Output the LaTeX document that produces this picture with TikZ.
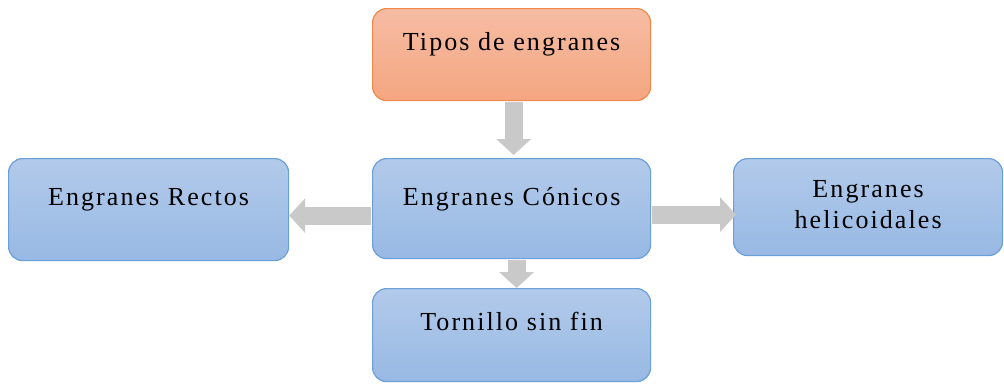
\documentclass[tikz,border=0pt]{standalone}
\usepackage{fontspec}
\setmainfont{Liberation Serif}[LetterSpace=8]
\usetikzlibrary{arrows.meta}
\definecolor{orbd}{HTML}{F08A4B}
\definecolor{ortop}{HTML}{F6BCA4}
\definecolor{orbot}{HTML}{F4A680}
\definecolor{blbd}{HTML}{6A9FD8}
\definecolor{bltop}{HTML}{B2CAEA}
\definecolor{blbot}{HTML}{98B9E4}
\definecolor{arr}{HTML}{C9C9C9}
\begin{document}
\begin{tikzpicture}[x=1pt,y=-1pt,
  box/.style={draw=blbd, line width=1.2pt, rounded corners=14pt,
    top color=bltop, bottom color=blbot, inner sep=0pt, anchor=north west,
    align=center, text height=18pt, text depth=26pt,
    font=\fontsize{26}{31}\selectfont},
  obox/.style={box, draw=orbd, top color=ortop, bottom color=orbot},
  blockarrow/.style={draw=arr, line width=18pt,
    -{Triangle[width=34pt,length=16pt]}}
]
\fill[white] (0,0) rectangle (1004,383);
\node[obox, minimum width=278pt, minimum height=92pt, text depth=26pt] (tipos) at (372,8) {Tipos de engranes};
\node[box, minimum width=278pt, minimum height=100pt, text depth=24pt] (conicos) at (372,158) {Engranes Cónicos};
\node[box, minimum width=280pt, minimum height=102pt, text depth=26pt] (rectos) at (8,158) {Engranes Rectos};
\node[box, minimum width=269pt, minimum height=97pt, text height=49pt, text depth=6pt] (helic) at (733,158) {Engranes\\helicoidales};
\node[box, minimum width=278pt, minimum height=93pt, text depth=27pt] (tornillo) at (372,288) {Tornillo sin fin};

\draw[blockarrow, shorten <=0.6pt, shorten >=3pt] ([xshift=2pt]tipos.south) -- ([xshift=2pt]conicos.north);
\draw[blockarrow, shorten <=0.6pt] ([yshift=-7pt]conicos.west) -- ([yshift=-7pt]conicos.west -| rectos.east);
\draw[blockarrow, shorten <=0.6pt, shorten >=-3pt] ([yshift=-6pt]conicos.east) -- ([yshift=-6pt]conicos.east -| helic.west);
\draw[blockarrow, shorten <=0.6pt] ([xshift=5pt]conicos.south) -- ([xshift=5pt]tornillo.north);
\end{tikzpicture}
\end{document}
